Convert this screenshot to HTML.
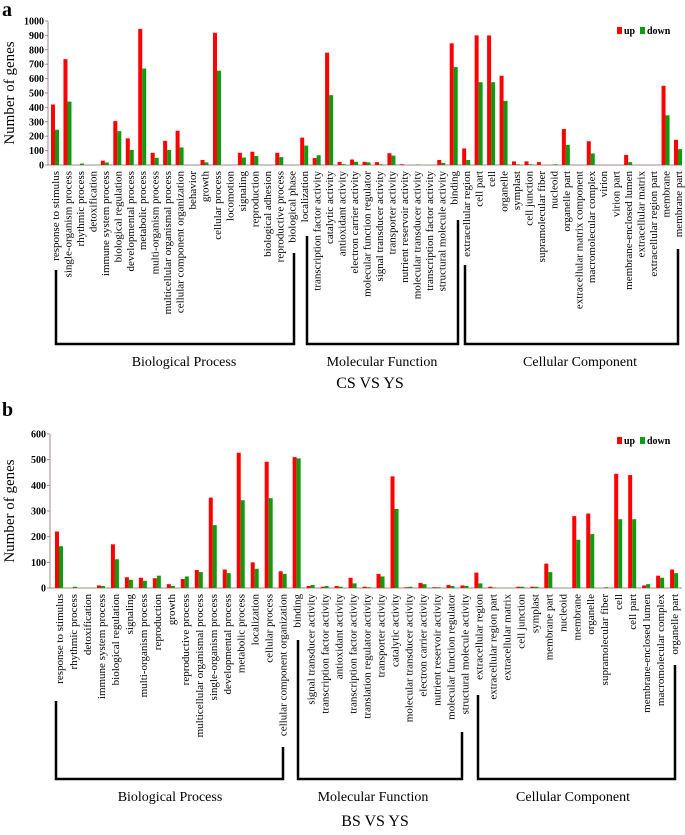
<!DOCTYPE html>
<html><head><meta charset="utf-8"><style>
body{margin:0;background:#fff;width:685px;height:830px;overflow:hidden}
svg, svg text{font-family:"Liberation Serif","DejaVu Serif",serif}
</style></head><body>
<svg id="chart" width="685" height="830" viewBox="0 0 685 830" font-family="Liberation Serif, serif"></svg>
<script>
const catsA=["response to stimulus","single-organism process","rhythmic process","detoxification","immune system process","biological regulation","developmental process","metabolic process","multi-organism process","multicellular organismal process","cellular component organization","behavior","growth","cellular process","locomotion","signaling","reproduction","biological adhesion","reproductive process","biological phase","localization","transcription factor activity","catalytic activity","antioxidant activity","electron carrier activity","molecular function regulator","signal transducer activity","transporter activity","nutrient reservoir activity","molecular transducer activity","transcription factor activity","structural molecule activity","binding","extracellular region","cell part","cell","organelle","symplast","cell junction","supramolecular fiber","nucleoid","organelle part","extracellular matrix component","macromolecular complex","virion","virion part","membrane-enclosed lumen","extracellular matrix","extracellular region part","membrane","membrane part"];
const upA=[420,735,0,0,30,305,185,945,85,168,238,0,35,918,0,85,92,0,85,0,190,48,780,22,38,22,20,82,5,0,0,35,845,115,900,900,620,25,25,20,0,250,0,165,0,0,70,0,0,550,175];
const downA=[245,440,10,0,18,235,105,670,50,105,122,0,18,655,0,52,62,0,55,0,135,68,485,6,22,18,5,65,0,3,0,15,680,35,575,575,445,5,5,0,5,140,0,80,0,0,20,0,0,345,110];
const ticksA=[0,100,200,300,400,500,600,700,800,900,1000];
const catsB=["response to stimulus","rhythmic process","detoxification","immune system process","biological regulation","signaling","multi-organism process","reproduction","growth","reproductive process","multicellular organismal process","single-organism process","developmental process","metabolic process","localization","cellular process","cellular component organization","binding","signal transducer activity","transcription factor activity","antioxidant activity","transcription factor activity","translation regulator activity","transporter activity","catalytic activity","molecular transducer activity","electron carrier activity","nutrient reservoir activity","molecular function regulator","structural molecule activity","extracellular region","extracellular region part","extracellular matrix","cell junction","symplast","membrane part","nucleoid","membrane","organelle","supramolecular fiber","cell","cell part","membrane-enclosed lumen","macromolecular complex","organelle part"];
const upB=[220,0,0,10,170,42,40,38,15,35,70,352,72,527,100,492,65,510,8,5,8,40,5,55,435,3,20,3,12,10,60,5,0,5,5,95,0,280,290,0,445,440,10,48,72];
const downB=[163,5,0,8,112,32,28,48,8,45,62,245,58,342,75,350,55,505,12,8,5,18,3,45,308,5,15,3,8,8,18,2,0,5,5,62,0,188,210,3,268,268,15,40,58];
const ticksB=[0,100,200,300,400,500,600];

const NS="http://www.w3.org/2000/svg";
const svg=document.getElementById('chart');
const FF='"Liberation Serif", serif';
function mk(tag,attrs,parent,text){const e=document.createElementNS(NS,tag);for(const k in attrs)e.setAttribute(k,attrs[k]);if(tag==='text')e.setAttribute('style','font-family:'+FF);if(text!==undefined)e.textContent=text;(parent||svg).appendChild(e);return e;}

function panel(o){
  const g=mk('g',{});
  
  
  const y=v=>o.y0-(v/o.max)*(o.y0-o.yTop);
  const x=i=>o.c0+i*o.step;
  const L=mk('text',{x:2,y:o.letterY,'font-size':20,'font-weight':'bold'},g,o.letter);
  
  const ax=mk('line',{x1:o.axX,y1:o.yTop,x2:o.axX,y2:o.y0,stroke:'#a08888','stroke-width':1},g);
  
  const xa=mk('line',{x1:o.axX,y1:o.y0,x2:682,y2:o.y0,stroke:'#a08888','stroke-width':1},g);
  
  o.ticks.forEach(t=>{
    const tl=mk('text',{x:o.axX-4,y:y(t)+3.5,'font-size':10,'font-weight':'bold','text-anchor':'end'},g,String(t));
    
    mk('line',{x1:o.axX-3,y1:y(t),x2:o.axX,y2:y(t),stroke:'#a08888'},g);
  });
  const yt=mk('text',{x:0,y:0,'font-size':15,'text-anchor':'middle',transform:`translate(${o.yTitleX},${(o.y0+o.yTop)/2}) rotate(-90)`},g,'Number of genes');
  
  o.cats.forEach((c,i)=>{
    const cx=x(i);
    if(o.up[i]>0){const r=mk('rect',{x:cx-4,y:y(o.up[i]),width:4,height:o.y0-y(o.up[i]),fill:'#ff0000'},g);
      }
    if(o.down[i]>0){const r=mk('rect',{x:cx,y:y(o.down[i]),width:4,height:o.y0-y(o.down[i]),fill:'#109a10'},g);
      }
    const t=mk('text',{x:0,y:0,'font-size':11,'text-anchor':'end',transform:`translate(${cx+4},${o.y0+6}) rotate(-90)`},g,c);
    
  });
  const lg=mk('g',{},g);
  mk('rect',{x:o.legX,y:o.legY-7,width:5,height:7,fill:'#ff0000'},lg);
  mk('text',{x:o.legX+7,y:o.legY,'font-size':10,'font-weight':'bold'},lg,'up');
  mk('rect',{x:o.legX+23,y:o.legY-7,width:5,height:7,fill:'#109a10'},lg);
  mk('text',{x:o.legX+30,y:o.legY,'font-size':10,'font-weight':'bold'},lg,'down');
  o.brackets.forEach(b=>{
    const p=mk('path',{d:`M${b[0]},${b[1]} V${o.bY} H${b[2]} V${b[3]}`,fill:'none',stroke:'#000','stroke-width':2.5},g);
    
    const t=mk('text',{x:b[5],y:o.bY+22,'font-size':14,'text-anchor':'middle'},g,b[4]);
    
  });
  const tt=mk('text',{x:o.titleX,y:o.titleY,'font-size':16,'text-anchor':'middle'},g,o.title);
  
}

panel({name:'panel-a-cs-vs-ys',letter:'a',letterY:16,cats:catsA,up:upA,down:downA,ticks:ticksA,max:1000,
  y0:165,yTop:21,axX:48,c0:55,step:12.46,yTitleX:14,legX:617,legY:34,
  bY:344,brackets:[[56,270,294,253,'Biological Process',184],[307,236,458,220,'Molecular Function',382],[465,265,678,249,'Cellular Component',580]],
  title:'CS VS YS',titleX:370,titleY:388});
panel({name:'panel-b-bs-vs-ys',letter:'b',letterY:416,cats:catsB,up:upB,down:downB,ticks:ticksB,max:600,
  y0:588,yTop:434,axX:50,c0:59,step:13.98,yTitleX:14,legX:617,legY:444,
  bY:779,brackets:[[56,701,283,747,'Biological Process',170],[298,640,462,732,'Molecular Function',373],[478,695,675,665,'Cellular Component',573]],
  title:'BS VS YS',titleX:375,titleY:826});
</script>
</body></html>
